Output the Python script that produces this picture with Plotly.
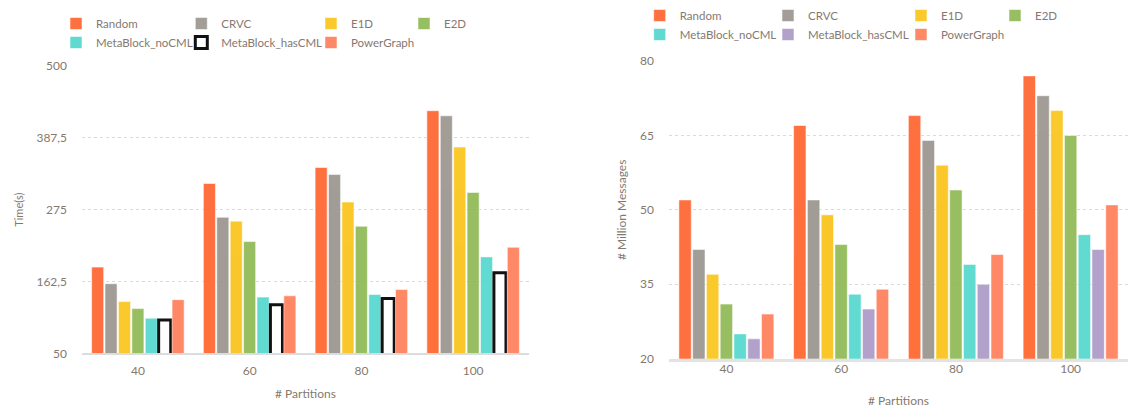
import plotly.graph_objects as go

partitions = ["40", "60", "80", "100"]
series_names = ["Random", "CRVC", "E1D", "E2D", "MetaBlock_noCML", "MetaBlock_hasCML", "PowerGraph"]

time_random = [185, 316, 341, 430]
time_crvc = [159, 263, 330, 422]
time_e1d = [131, 257, 287, 373]
time_e2d = [120, 225, 249, 302]
time_nocml = [105, 138, 142, 201]
time_hascml = [102, 126, 136, 176]
time_powergraph = [134, 140, 150, 216]

msg_random = [52, 67, 69, 77]
msg_crvc = [42, 52, 64, 73]
msg_e1d = [37, 49, 59, 70]
msg_e2d = [31, 43, 54, 65]
msg_nocml = [25, 33, 39, 45]
msg_hascml = [24, 30, 35, 42]
msg_powergraph = [29, 34, 41, 51]

time_ticks = [50, 162.5, 275, 387.5, 500]
time_tick_labels = ["50", "162,5", "275", "387,5", "500"]
msg_ticks = [20, 35, 50, 65, 80]

colors = ["#FF6633", "#9B9790", "#FAC51C", "#91BA57", "#55D8CE", "#AD9BC7", "#FF7F5C"]

time_data = [time_random, time_crvc, time_e1d, time_e2d, time_nocml, time_hascml, time_powergraph]
msg_data = [msg_random, msg_crvc, msg_e1d, msg_e2d, msg_nocml, msg_hascml, msg_powergraph]

TXT = "#85796f"
FONT = "Lato"

# legend column per series (col index), left chart legends 1-4, right 5-8
col_of = [0, 1, 2, 3, 0, 1, 2]

fig = go.Figure()

for i, name in enumerate(series_names):
    if name == "MetaBlock_hasCML":
        marker = dict(color="white", line=dict(color="black", width=3))
    else:
        marker = dict(color=colors[i], line=dict(color="rgba(255,255,255,0.55)", width=1))
    fig.add_trace(go.Bar(
        x=partitions, y=time_data[i], name=name, marker=marker, opacity=0.93,
        xaxis="x", yaxis="y", legend="legend" if col_of[i] == 0 else f"legend{col_of[i]+1}",
    ))

for i, name in enumerate(series_names):
    marker = dict(color=colors[i], line=dict(color="rgba(255,255,255,0.55)", width=1))
    fig.add_trace(go.Bar(
        x=partitions, y=msg_data[i], name=name, marker=marker, opacity=0.93,
        xaxis="x2", yaxis="y2", legend=f"legend{col_of[i]+5}",
    ))

W, H = 1129, 410
# x of legend text start in each column
left_text = [93, 218.3, 348, 441]
right_text = [676.7, 805, 938, 1032]
leg_common = dict(orientation="v", xanchor="left", yanchor="top", bgcolor="rgba(0,0,0,0)",
                  font=dict(family=FONT, size=11.5, color=TXT), borderwidth=0, tracegroupgap=0)
legends = {}
for k, xt in enumerate(left_text):
    key = "legend" if k == 0 else f"legend{k+1}"
    legends[key] = dict(leg_common, x=(xt - 37) / W, y=1 - 9 / H)
for k, xt in enumerate(right_text):
    legends[f"legend{k+5}"] = dict(leg_common, x=(xt - 37) / W, y=1 - 1 / H)

axis_font = dict(family=FONT, size=12, color=TXT)
fig.update_layout(
    template="none",
    width=W, height=H, margin=dict(l=0, r=0, t=0, b=0, autoexpand=False),
    paper_bgcolor="white", plot_bgcolor="white",
    barmode="group", bargap=0.16, bargroupgap=0.1,
    font=dict(family=FONT, color=TXT, size=12),
    showlegend=True,
    xaxis=dict(domain=[82 / W, 529 / W], anchor="y", type="category", automargin=False,
               showgrid=False, showline=True, linecolor="#dcdcdc", linewidth=1.5,
               ticks="", tickfont=axis_font, ticklabelstandoff=6,
               title=dict(text="# Partitions", font=axis_font, standoff=12)),
    yaxis=dict(domain=[1 - 353.3 / H, 1 - 66 / H], anchor="x", range=[50, 500], automargin=False,
               tickvals=time_ticks, ticktext=time_tick_labels, tickfont=axis_font,
               showgrid=True, gridcolor="#dadada", griddash="dot", gridwidth=1,
               zeroline=False, showline=False, ticks="", ticklabelstandoff=14,
               title=dict(text="Time(s)", font=dict(family=FONT, size=11, color=TXT), standoff=10)),
    xaxis2=dict(domain=[669 / W, 1128 / W], anchor="y2", type="category", automargin=False,
                showgrid=False, showline=True, linecolor="#e3e3e3", linewidth=3,
                ticks="", tickfont=axis_font, ticklabelstandoff=-3,
                title=dict(text="# Partitions", font=axis_font, standoff=22)),
    yaxis2=dict(domain=[1 - 358.7 / H, 1 - 61 / H], anchor="x2", range=[20, 80], automargin=False,
                tickvals=msg_ticks, tickfont=axis_font,
                showgrid=True, gridcolor="#dadada", griddash="dot", gridwidth=1,
                zeroline=False, showline=False, ticks="", ticklabelstandoff=14,
                title=dict(text="# Million Messages", font=axis_font, standoff=10)),
    **legends,
)

fig.write_html("out.html", config={"displayModeBar": False},
               post_script="document.body.style.margin='0';")
